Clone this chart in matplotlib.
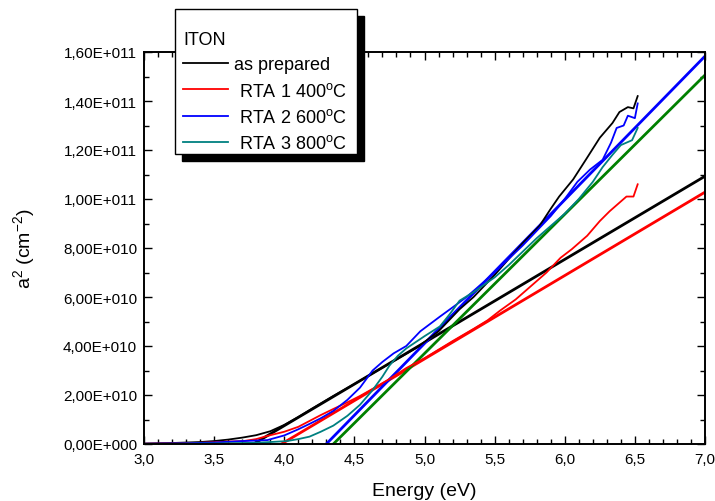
import matplotlib
matplotlib.use("Agg")
from matplotlib import pyplot as plt
from matplotlib.patches import Rectangle
from matplotlib.ticker import FuncFormatter, MultipleLocator
import math

plt.rcParams['font.family'] = ['Liberation Sans', 'DejaVu Sans']
plt.rcParams['mathtext.fontset'] = 'custom'
plt.rcParams['mathtext.rm'] = 'Liberation Sans'
plt.rcParams['mathtext.it'] = 'Liberation Sans'

# measured curves (energy in eV, a^2 in units of 1e10 cm^-2)
e_prep = [3.0, 3.2, 3.4, 3.5, 3.6, 3.7, 3.8, 3.9, 4.0, 4.1, 4.2, 4.35, 4.5, 4.65,
          4.8, 4.95, 5.1, 5.25, 5.35, 5.5, 5.6, 5.7, 5.82, 5.9, 5.96, 6.06, 6.15,
          6.25, 6.34, 6.39, 6.45, 6.49, 6.52]
a_prep = [0.02, 0.04, 0.08, 0.12, 0.18, 0.26, 0.36, 0.52, 0.78, 1.1, 1.45, 1.96, 2.45, 2.95,
          3.45, 3.95, 4.6, 5.5, 6.0, 6.9, 7.55, 8.2, 8.9, 9.6, 10.1, 10.8, 11.6,
          12.5, 13.1, 13.55, 13.75, 13.7, 14.2]

e_rta1 = [3.0, 3.3, 3.5, 3.6, 3.71, 3.8, 3.88, 4.0, 4.1, 4.18, 4.26, 4.35, 4.45, 4.54,
          4.63, 4.75, 4.87, 5.0, 5.1, 5.2, 5.35, 5.45, 5.54, 5.65, 5.77, 5.87, 5.97,
          6.05, 6.16, 6.25, 6.32, 6.38, 6.44, 6.49, 6.52]
a_rta1 = [0.01, 0.03, 0.07, 0.1, 0.12, 0.2, 0.33, 0.5, 0.7, 0.94, 1.18, 1.43, 1.7, 1.96,
          2.25, 2.65, 3.1, 3.5, 3.85, 4.2, 4.7, 5.05, 5.45, 5.9, 6.5, 7.0, 7.6,
          7.95, 8.5, 9.1, 9.5, 9.8, 10.1, 10.1, 10.6]

e_rta2 = [3.0, 3.3, 3.5, 3.7, 3.8, 3.88, 4.0, 4.1, 4.18, 4.26, 4.35, 4.45, 4.54, 4.63,
          4.7, 4.78, 4.87, 4.97, 5.11, 5.23, 5.3, 5.4, 5.5, 5.59, 5.7, 5.8, 5.9, 6.0,
          6.09, 6.18, 6.27, 6.33, 6.37, 6.42, 6.45, 6.5, 6.52]
a_rta2 = [0.01, 0.03, 0.06, 0.12, 0.14, 0.16, 0.35, 0.6, 0.82, 1.05, 1.35, 1.8, 2.3, 3.0,
          3.35, 3.7, 4.0, 4.6, 5.2, 5.7, 6.0, 6.5, 7.0, 7.5, 8.1, 8.7, 9.3, 10.0,
          10.7, 11.2, 11.6, 12.3, 12.9, 13.0, 13.4, 13.3, 13.9]

e_rta3 = [3.0, 3.5, 3.8, 3.9, 4.02, 4.1, 4.18, 4.26, 4.35, 4.45, 4.54, 4.63, 4.7, 4.75,
          4.81, 4.87, 5.0, 5.11, 5.18, 5.25, 5.35, 5.5, 5.6, 5.7, 5.8, 5.9, 6.0, 6.1,
          6.2, 6.27, 6.34, 6.4, 6.44, 6.48, 6.52]
a_rta3 = [0.0, 0.02, 0.05, 0.08, 0.12, 0.2, 0.3, 0.5, 0.75, 1.15, 1.6, 2.2, 2.75, 3.2,
          3.6, 3.9, 4.4, 4.8, 5.3, 5.85, 6.2, 6.8, 7.3, 7.85, 8.4, 8.9, 9.4, 10.0,
          10.7, 11.3, 11.8, 12.2, 12.3, 12.4, 12.9]

# linear fits (end points)
fit_prep_e, fit_prep_a = [3.78, 7.0], [0.0, 10.93]
fit_rta1_e, fit_rta1_a = [3.98, 7.0], [0.0, 10.28]
fit_rta2_e, fit_rta2_a = [4.30, 7.0], [0.0, 15.83]
fit_rta3_e, fit_rta3_a = [4.35, 7.0], [0.0, 15.06]

scale = 1e10


def sc(vals):
    return [v * scale for v in vals]


W, H = 715, 502
fig = plt.figure(figsize=(W / 100, H / 100), dpi=100)
ax = fig.add_axes([144 / W, 1 - 445 / H, 561 / W, 392 / H])

# fits drawn under the data
ax.plot(fit_prep_e, sc(fit_prep_a), color='black', lw=2.0)
ax.plot(fit_rta1_e, sc(fit_rta1_a), color='#ff0000', lw=2.0)
ax.plot(fit_rta2_e, sc(fit_rta2_a), color='#0000ff', lw=2.0)
ax.plot(fit_rta3_e, sc(fit_rta3_a), color='#008000', lw=2.0)

ax.plot(e_prep, sc(a_prep), color='black', lw=1.3, label='as prepared')
ax.plot(e_rta1, sc(a_rta1), color='#ff0000', lw=1.3, label=r' RTA 1 400$^{\mathrm{o}}$C')
ax.plot(e_rta2, sc(a_rta2), color='#0000ff', lw=1.3, label=r' RTA 2 600$^{\mathrm{o}}$C')
ax.plot(e_rta3, sc(a_rta3), color='#008080', lw=1.3, label=r' RTA 3 800$^{\mathrm{o}}$C')

ax.set_xlim(3.0, 7.0)
ax.set_ylim(0, 1.6e11)
ax.xaxis.set_major_locator(MultipleLocator(0.5))
ax.xaxis.set_minor_locator(MultipleLocator(0.1))
ax.yaxis.set_major_locator(MultipleLocator(2e10))
ax.yaxis.set_minor_locator(MultipleLocator(1e10))


def yfmt(v, pos):
    if v == 0:
        return '0,00E+000'
    exp = int(math.floor(math.log10(abs(v))))
    return f'{v / 10 ** exp:.2f}'.replace('.', ',') + f'E+{exp:03d}'


ax.yaxis.set_major_formatter(FuncFormatter(yfmt))
ax.xaxis.set_major_formatter(FuncFormatter(lambda v, p: f'{v:.1f}'.replace('.', ',')))

ax.tick_params(which='both', direction='in', top=True, right=True, width=1.0, labelsize=11)
ax.tick_params(which='major', length=6)
ax.tick_params(which='minor', length=3.5)
ax.tick_params(axis='x', pad=6)
ax.tick_params(axis='y', pad=5)
for s in ax.spines.values():
    s.set_linewidth(1.4)

ax.set_xlabel('Energy (eV)', fontsize=14, labelpad=11)
ax.set_ylabel(r'a$^2$ (cm$^{-2}$)', fontsize=14, labelpad=19)

# legend box with solid drop shadow
fx0, fy0, fw, fh = 175, 10, 182, 145
fig.add_artist(Rectangle(((fx0 + 7) / W, 1 - (fy0 + fh + 7) / H), fw / W, fh / H,
                         transform=fig.transFigure, facecolor='black', edgecolor='black',
                         zorder=5))
fig.add_artist(Rectangle((fx0 / W, 1 - (fy0 + fh) / H), fw / W, fh / H,
                         transform=fig.transFigure, facecolor='white', edgecolor='black',
                         lw=1.0, zorder=6))

leg = ax.legend(title='ITON', loc='upper left', bbox_to_anchor=(183 / W, 1 - 32 / H),
                bbox_transform=fig.transFigure, fontsize=13, title_fontsize=13,
                alignment='left', frameon=False, handlelength=2.5, handletextpad=0.3,
                labelspacing=0.46, borderpad=0, borderaxespad=0)
leg.set_zorder(7)
leg.remove()
fig.add_artist(leg)

fig.savefig('out.png', dpi=100)
